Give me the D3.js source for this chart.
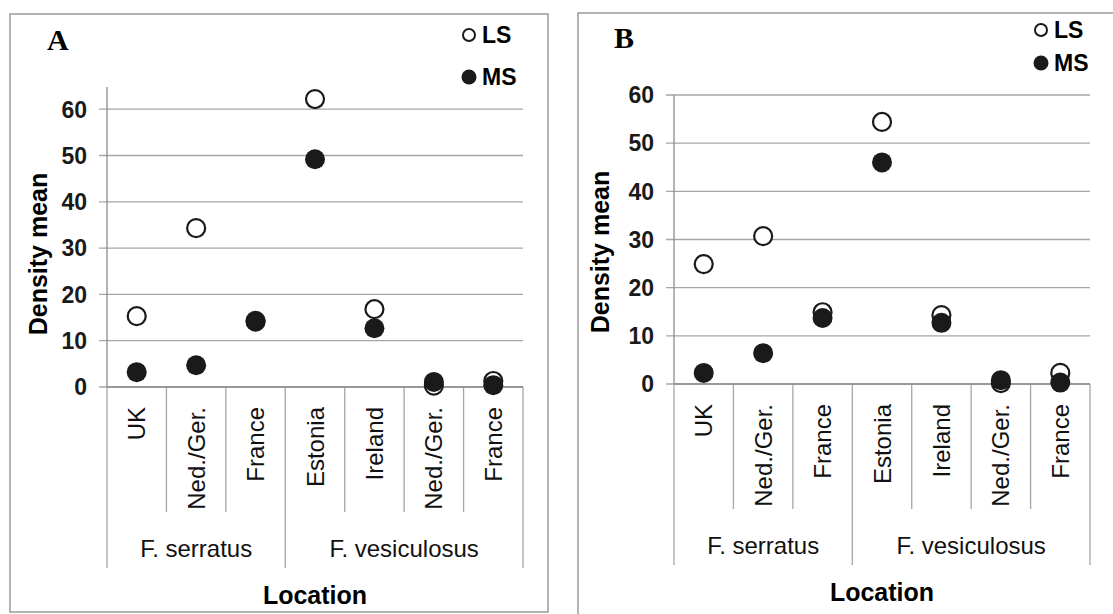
<!DOCTYPE html>
<html>
<head>
<meta charset="utf-8">
<script src="https://cdn.jsdelivr.net/npm/d3@7"></script>
<style>
  body { margin: 0; background: #fff; }
  svg { display: block; font-family: Arial, "Liberation Sans", sans-serif; }
</style>
</head>
<body>
<svg id="chart" width="1113" height="614"></svg>
<script>
// Chart data
const categories = ['UK', 'Ned./Ger.', 'France', 'Estonia', 'Ireland', 'Ned./Ger.', 'France'];
const groupNames = ['F. serratus', 'F. vesiculosus'];
const groupSizes = [3, 4];
const yTicks = [0, 10, 20, 30, 40, 50, 60];
const seriesNames = ['LS', 'MS'];

const lsA = [15.3, 34.3, 14.3, 62.2, 16.8, 0.3, 1.3];
const msA = [3.2, 4.7, 14.1, 49.2, 12.7, 1.1, 0.4];
const lsB = [24.9, 30.7, 14.9, 54.4, 14.3, 0.2, 2.3];
const msB = [2.3, 6.4, 13.7, 46.0, 12.7, 0.8, 0.3];

const svg = d3.select('#chart');
svg.append('rect').attr('width', 1113).attr('height', 614).attr('fill', '#fff');

const gridColor = '#a6a6a6';
const markColor = '#1a1a1a';

function drawPanel(p) {
  const g = svg.append('g');

  // Outer frame
  g.append('rect')
    .attr('x', p.frame[0]).attr('y', p.frame[1])
    .attr('width', p.frame[2]).attr('height', p.frame[3])
    .attr('fill', 'none').attr('stroke', '#9a9a9a').attr('stroke-width', 1.5);

  // Panel letter
  g.append('text')
    .attr('x', p.letterPos[0]).attr('y', p.letterPos[1])
    .attr('font-family', '"Liberation Serif", "DejaVu Serif", serif')
    .attr('font-weight', 'bold').attr('font-size', 30)
    .text(p.letter);

  // Scales
  const x = d3.scaleBand()
    .domain(d3.range(categories.length))
    .range([p.left, p.right]);
  const y = d3.scaleLinear()
    .domain([0, p.yMax])
    .range([p.zero, p.top]);

  // Gridlines + tick marks
  g.append('g').selectAll('line')
    .data(yTicks)
    .join('line')
    .attr('x1', p.left - 8).attr('x2', p.right)
    .attr('y1', d => y(d)).attr('y2', d => y(d))
    .attr('stroke', gridColor).attr('stroke-width', 1.3);

  // Y axis line
  g.append('line')
    .attr('x1', p.left).attr('x2', p.left)
    .attr('y1', y(p.yMax)).attr('y2', p.zero)
    .attr('stroke', '#8c8c8c').attr('stroke-width', 1.3);

  // Y tick labels
  g.append('g').selectAll('text')
    .data(yTicks)
    .join('text')
    .attr('x', p.left - 20)
    .attr('y', d => y(d))
    .attr('dy', '0.36em')
    .attr('text-anchor', 'end')
    .attr('font-size', 23).attr('font-weight', 'bold')
    .attr('fill', '#1a1a1a')
    .text(d => d);

  // Y axis title
  g.append('text')
    .attr('transform', `translate(${p.yTitleX},${p.yTitleY}) rotate(-90)`)
    .attr('text-anchor', 'middle')
    .attr('dy', '0.35em')
    .attr('font-size', 25).attr('font-weight', 'bold')
    .text('Density mean');

  // Category dividers below the axis
  const groupEnds = Array.from(d3.cumsum(groupSizes));
  const bounds = d3.range(categories.length + 1);
  g.append('g').selectAll('line')
    .data(bounds)
    .join('line')
    .attr('x1', i => i < categories.length ? x(i) : p.right)
    .attr('x2', i => i < categories.length ? x(i) : p.right)
    .attr('y1', p.zero)
    .attr('y2', i => (i === 0 || groupEnds.includes(i)) ? p.zero + 181 : p.zero + 125)
    .attr('stroke', gridColor).attr('stroke-width', 1.3);

  // Category labels
  g.append('g').selectAll('text')
    .data(categories)
    .join('text')
    .attr('transform', (d, i) => `translate(${x(i) + x.bandwidth() / 2},${p.zero + 20}) rotate(-90)`)
    .attr('text-anchor', 'end')
    .attr('dy', '0.36em')
    .attr('font-size', 24)
    .attr('fill', '#111')
    .text(d => d);

  // Group labels
  const groupStarts = [0, ...groupEnds.slice(0, -1)];
  g.append('g').selectAll('text')
    .data(groupNames)
    .join('text')
    .attr('x', (d, i) => {
      const a = x(groupStarts[i]);
      const b = groupEnds[i] < categories.length ? x(groupEnds[i]) : p.right;
      return (a + b) / 2;
    })
    .attr('y', p.zero + 170)
    .attr('text-anchor', 'middle')
    .attr('font-size', 24)
    .attr('fill', '#111')
    .text(d => d);

  // X axis title
  g.append('text')
    .attr('x', (p.left + p.right) / 2)
    .attr('y', p.zero + 217)
    .attr('text-anchor', 'middle')
    .attr('font-size', 25).attr('font-weight', 'bold')
    .text('Location');

  // X axis line
  g.append('line')
    .attr('x1', p.left).attr('x2', p.right)
    .attr('y1', p.zero).attr('y2', p.zero)
    .attr('stroke', '#8c8c8c').attr('stroke-width', 1.3);

  // Points: LS (open), then MS (filled) on top
  g.append('g').selectAll('circle')
    .data(p.ls)
    .join('circle')
    .attr('cx', (d, i) => x(i) + x.bandwidth() / 2)
    .attr('cy', d => y(d))
    .attr('r', 9)
    .attr('fill', '#fff')
    .attr('stroke', markColor).attr('stroke-width', 2.2);

  g.append('g').selectAll('circle')
    .data(p.ms)
    .join('circle')
    .attr('cx', (d, i) => x(i) + x.bandwidth() / 2)
    .attr('cy', d => y(d))
    .attr('r', 10)
    .attr('fill', markColor);

  // Legend
  const legend = g.append('g')
    .attr('transform', `translate(${p.legendPos[0]},${p.legendPos[1]})`);
  const items = legend.selectAll('g')
    .data(seriesNames)
    .join('g')
    .attr('transform', (d, i) => `translate(0,${i * p.legendGap})`);
  items.append('circle')
    .attr('r', (d, i) => i === 0 ? 6 : 7.5)
    .attr('fill', (d, i) => i === 0 ? '#fff' : markColor)
    .attr('stroke', (d, i) => i === 0 ? markColor : 'none')
    .attr('stroke-width', 2);
  items.append('text')
    .attr('x', 13)
    .attr('dy', '0.36em')
    .attr('font-size', 23).attr('font-weight', 'bold')
    .text(d => d);
}

drawPanel({
  letter: 'A', letterPos: [47, 50],
  frame: [10, 14, 538, 598],
  left: 107, right: 523, top: 87, zero: 387, yMax: 64.8,
  yTitleX: 38, yTitleY: 254,
  legendPos: [469, 35], legendGap: 42,
  ls: lsA, ms: msA
});

drawPanel({
  letter: 'B', letterPos: [614, 48],
  frame: [578, 13, 560, 620],
  left: 674, right: 1090, top: 95, zero: 384, yMax: 60,
  yTitleX: 600, yTitleY: 252,
  legendPos: [1041, 30], legendGap: 33,
  ls: lsB, ms: msB
});
</script>
</body>
</html>
